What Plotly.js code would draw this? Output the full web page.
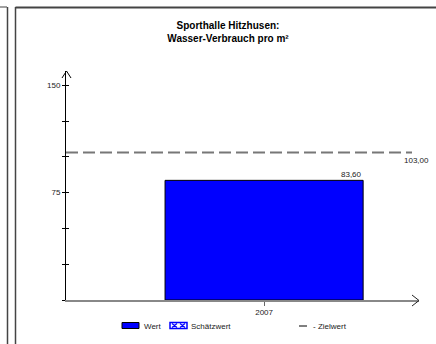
<!DOCTYPE html>
<html>
<head>
<meta charset="utf-8">
<script src="https://cdn.plot.ly/plotly-3.0.1.min.js"></script>
<style>html,body{margin:0;padding:0;background:#fff}#chart{width:436px;height:344px}</style>
</head>
<body>
<div id="chart"></div>
<script>
// ---- data ----
const categories = ['2007'];
const values = [83.6];
const targetValue = [103];
const yTickVals = [0, 25, 50, 75, 100, 125, 150];
const yTickText = ['', '', '', '75', '', '', '150'];
const legendLabels = ['Wert', 'Schätzwert', '- Zielwert'];
const titleLines = ['Sporthalle Hitzhusen:', 'Wasser-Verbrauch pro m²'];

// ---- layout helpers ----
const W = 436, H = 344;
const M = {l: 66, r: 17, t: 71, b: 44};
const PW = W - M.l - M.r, PH = H - M.t - M.b;
const px = x => (x - M.l) / PW;
const py = y => (H - M.b - y) / PH;
const fmt = v => v.toFixed(2).replace('.', ',');
const FONT = 'Liberation Sans, Arial, sans-serif';

const barWidth = 0.5;

const traces = [
  {
    type: 'bar', x: categories, y: values, width: barWidth,
    marker: {color: '#0000FF', line: {color: '#000', width: 1}},
    hoverinfo: 'skip', showlegend: false
  },
  { // overlay axis for inside half of crossing ticks
    type: 'scatter', x: [], y: [], yaxis: 'y2', showlegend: false
  }
];

const shapes = [];
const line = (x0, y0, x1, y1, color, width) => shapes.push({
  type: 'line', xref: 'paper', yref: 'paper',
  x0: px(x0), y0: py(y0), x1: px(x1), y1: py(y1),
  line: {color: color, width: width}
});
// frame lines
line(0, 7, 7, 7, '#444', 1);
line(7.5, 7, 7.5, 344, '#444', 1.5);
line(15.5, 7.5, 436, 7.5, '#444', 2);
line(15.5, 7, 15.5, 344, '#444', 1.5);
// target line
shapes.push({
  type: 'line', xref: 'paper', yref: 'y',
  x0: 0, x1: px(412), y0: targetValue[0], y1: targetValue[0],
  line: {color: '#777', width: 2, dash: '12px,5px'}
});
// arrowheads
const path = pts => 'M' + pts.map(p => px(p[0]) + ',' + py(p[1])).join(' L');
shapes.push({type: 'path', xref: 'paper', yref: 'paper',
  path: path([[412, 295], [419, 300.5], [412, 306]]), line: {color: '#222', width: 1}});
shapes.push({type: 'path', xref: 'paper', yref: 'paper',
  path: path([[62, 78], [66.5, 71], [71, 78]]), line: {color: '#000', width: 1}});
// legend symbols
const rect = (x0, y0, x1, y1, fill, lc, lw) => shapes.push({
  type: 'rect', xref: 'paper', yref: 'paper',
  x0: px(x0), y0: py(y0), x1: px(x1), y1: py(y1),
  fillcolor: fill, line: {color: lc, width: lw}
});
rect(122, 322.5, 139, 328.5, '#0000FF', '#000', 1);
rect(170, 322.5, 187, 328.5, '#fff', '#0000FF', 1.5);
shapes.push({type: 'path', xref: 'paper', yref: 'paper',
  path: path([[172, 323.5], [177, 327.5]]) + ' ' + path([[172, 327.5], [177, 323.5]]) + ' ' +
        path([[180, 323.5], [185, 327.5]]) + ' ' + path([[180, 327.5], [185, 323.5]]),
  line: {color: '#0000FF', width: 1.2}});
line(299, 326, 307, 326, '#000', 1);

const ann = (x, y, text, xanchor, opts) => Object.assign({
  xref: 'paper', yref: 'paper', x: px(x), y: py(y), text: text,
  xanchor: xanchor, yanchor: 'middle', showarrow: false,
  font: {family: FONT, size: 8, color: '#222'}
}, opts || {});

const annotations = [
  // value label
  {xref: 'x', yref: 'y', x: barWidth / 2, y: values[0], text: fmt(values[0]),
   xanchor: 'right', yanchor: 'bottom', showarrow: false, xshift: 1, yshift: -1,
   font: {family: FONT, size: 8, color: '#222'}},
  // target label
  {xref: 'paper', yref: 'y', x: px(416), y: targetValue[0], text: fmt(targetValue[0]),
   xanchor: 'center', yanchor: 'top', showarrow: false, yshift: -1,
   font: {family: FONT, size: 8, color: '#222'}},
  ann(142, 326, legendLabels[0], 'left'),
  ann(189, 326, legendLabels[1], 'left'),
  ann(311, 326, legendLabels[2], 'left')
];

const layout = {
  width: W, height: H,
  margin: M,
  paper_bgcolor: '#fff', plot_bgcolor: '#fff',
  showlegend: false,
  title: {
    text: '<b>' + titleLines.join('<br>') + '</b>',
    x: 228 / W, xanchor: 'center', xref: 'container',
    y: 1 - 29 / H, yanchor: 'top', yref: 'container',
    font: {family: FONT, size: 10, color: '#000'}
  },
  xaxis: {
    type: 'category', range: [-0.5, 0.391], fixedrange: true,
    showline: true, linecolor: '#888', linewidth: 1.5,
    ticks: 'outside', ticklen: 4, tickcolor: '#666', tickwidth: 1,
    tickfont: {family: FONT, size: 8, color: '#222'},
    showgrid: false, zeroline: false
  },
  yaxis: {
    range: [0, 160], fixedrange: true,
    showline: true, linecolor: '#000', linewidth: 1,
    tickmode: 'array', tickvals: yTickVals, ticktext: yTickText,
    ticks: 'outside', ticklen: 3, tickcolor: '#000', tickwidth: 1,
    tickfont: {family: FONT, size: 8, color: '#222'},
    showgrid: false, zeroline: false
  },
  yaxis2: {
    overlaying: 'y', range: [0, 160], fixedrange: true,
    tickmode: 'array', tickvals: yTickVals, showticklabels: false,
    ticks: 'inside', ticklen: 3, tickcolor: '#000', tickwidth: 1,
    showgrid: false, zeroline: false, showline: false
  },
  shapes: shapes,
  annotations: annotations
};

Plotly.newPlot('chart', traces, layout, {displayModeBar: false, staticPlot: true});
</script>
</body>
</html>
